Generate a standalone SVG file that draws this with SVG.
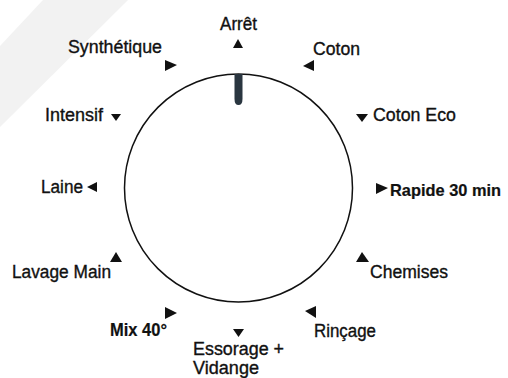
<svg xmlns="http://www.w3.org/2000/svg" width="508" height="378" viewBox="0 0 508 378">
<style>
.t{font-family:"Liberation Sans",Arial,sans-serif;font-size:18px;fill:#111;stroke:#111;stroke-width:0.35;}
.b{font-weight:bold;stroke-width:0.2;}
.tri{fill:#111;}
</style>
<rect width="508" height="378" fill="#fff"/>
<polygon points="43,0 128,0 0,127 0,46" fill="#f2f2f2"/>
<g id="dial">
<circle cx="238.5" cy="188" r="114" fill="none" stroke="#111" stroke-width="1.5"/>
<path d="M234.5,74 H242.5 V99 Q242.5,105 238.5,105 Q234.5,105 234.5,99 Z" fill="#2a3640"/>
</g>
<g id="connectors"></g>
<g id="arret">
<text class="t" x="220" y="30" textLength="37" lengthAdjust="spacingAndGlyphs">Arrêt</text>
<polygon class="tri" points="238,39 243,48 233,48"/>
</g>
<g id="synthetique">
<text class="t" x="68" y="53" textLength="94" lengthAdjust="spacingAndGlyphs">Synthétique</text>
<polygon class="tri" points="165,60 177,65 165,71"/>
</g>
<g id="coton">
<text class="t" x="313" y="55" textLength="47" lengthAdjust="spacingAndGlyphs">Coton</text>
<polygon class="tri" points="314,60 314,71 303,66"/>
</g>
<g id="intensif">
<text class="t" x="45" y="121" textLength="58" lengthAdjust="spacingAndGlyphs">Intensif</text>
<polygon class="tri" points="111,114 121,114 116,121"/>
</g>
<g id="coton-eco">
<text class="t" x="373" y="121" textLength="83" lengthAdjust="spacingAndGlyphs">Coton Eco</text>
<polygon class="tri" points="356,114 368,114 362,122"/>
</g>
<g id="laine">
<text class="t" x="41" y="193" textLength="42" lengthAdjust="spacingAndGlyphs">Laine</text>
<polygon class="tri" points="97,182 97,192 87,187"/>
</g>
<g id="rapide">
<text class="t b" x="390" y="196" font-size="16.5" textLength="111" lengthAdjust="spacingAndGlyphs" style="font-size:16.5px">Rapide 30 min</text>
<polygon class="tri" points="376,183 388,188 376,194"/>
</g>
<g id="lavage-main">
<text class="t" x="12" y="278" textLength="99" lengthAdjust="spacingAndGlyphs">Lavage Main</text>
<polygon class="tri" points="116,252 122,262 110,262"/>
</g>
<g id="chemises">
<text class="t" x="370" y="278" textLength="78" lengthAdjust="spacingAndGlyphs">Chemises</text>
<polygon class="tri" points="362,252 369,262 356,262"/>
</g>
<g id="mix40">
<text class="t b" x="110" y="336" textLength="57" lengthAdjust="spacingAndGlyphs">Mix 40°</text>
<polygon class="tri" points="165,307 177,313 165,319"/>
</g>
<g id="essorage">
<text class="t" x="193" y="355" textLength="91" lengthAdjust="spacingAndGlyphs">Essorage +</text>
<text class="t" x="193" y="374" textLength="66" lengthAdjust="spacingAndGlyphs">Vidange</text>
<polygon class="tri" points="233,329 244,329 238.5,337"/>
</g>
<g id="rincage">
<text class="t" x="314" y="337" textLength="62" lengthAdjust="spacingAndGlyphs">Rinçage</text>
<polygon class="tri" points="316,306 316,318 305,311"/>
</g>
</svg>
